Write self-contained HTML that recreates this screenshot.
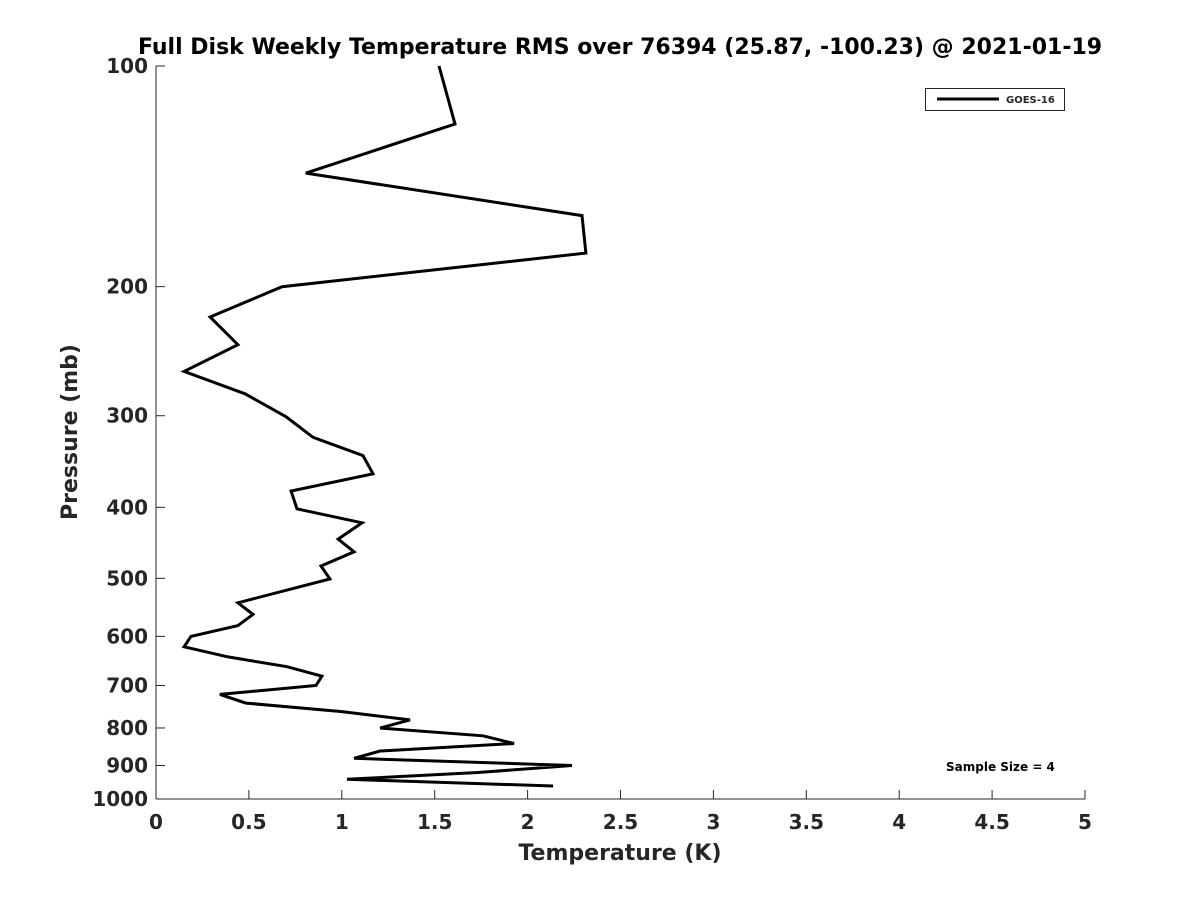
<!DOCTYPE html>
<html><head><meta charset="utf-8"><style>
body{margin:0;background:#fff;font-family:"Liberation Sans","DejaVu Sans",sans-serif}
svg text{font-family:"DejaVu Sans","Liberation Sans",sans-serif;font-weight:bold;fill:#262626}
</style></head><body>
<svg id="chart" width="1200" height="900" xmlns="http://www.w3.org/2000/svg">
<rect width="1200" height="900" fill="#fff"/>
<text x="620" y="54" font-size="22" text-anchor="middle" style="fill:#000">Full Disk Weekly Temperature RMS over 76394 (25.87, -100.23) @ 2021-01-19</text>
<g id="axes"></g>
<path id="series" fill="none" stroke="#000" stroke-width="3" stroke-linejoin="miter"/>
<g>
<rect x="925.5" y="88.5" width="139" height="22" fill="#fff" stroke="#262626" stroke-width="1"/>
<line x1="937" y1="99" x2="999" y2="99" stroke="#000" stroke-width="3"/>
<text x="1006" y="103" font-size="10">GOES-16</text>
</g>
<text x="946" y="771" font-size="12" style="fill:#000">Sample Size = 4</text>
<text x="620" y="860" font-size="22" text-anchor="middle">Temperature (K)</text>
<text transform="translate(77,432) rotate(-90)" font-size="22" text-anchor="middle">Pressure (mb)</text>
</svg>
<script>
const pressures=[100,120,140,160,180,200,220,240,261,280,301,321,340,360,380,402,420,442,460,481,501,540,560,580,600,620,640,660,680,700,720,740,760,780,800,820,840,860,880,900,920,940,960];
const rms=[1.523,1.609,0.807,2.293,2.314,0.678,0.291,0.441,0.151,0.479,0.700,0.845,1.114,1.168,0.727,0.759,1.109,0.980,1.066,0.888,0.936,0.441,0.522,0.441,0.188,0.151,0.388,0.705,0.893,0.861,0.344,0.484,1.001,1.367,1.206,1.760,1.927,1.206,1.066,2.239,1.733,1.028,2.137];
const xTicks=[0,0.5,1,1.5,2,2.5,3,3.5,4,4.5,5];
const xTickLabels=["0","0.5","1","1.5","2","2.5","3","3.5","4","4.5","5"];
const yTicks=[100,200,300,400,500,600,700,800,900,1000];
const yTickLabels=["100","200","300","400","500","600","700","800","900","1000"];
const X0=156,X1=1085,Y0=66,Y1=799;
const xs=v=>X0+(v-0)/(5-0)*(X1-X0);
const ys=p=>Y0+(Math.log10(p)-2)*(Y1-Y0);
const ns="http://www.w3.org/2000/svg";
const ax=document.getElementById('axes');
function mk(t,a){const e=document.createElementNS(ns,t);for(const k in a)e.setAttribute(k,a[k]);return e;}
let l=mk('line',{x1:X0,y1:Y0,x2:X0,y2:Y1,stroke:'#262626','stroke-width':1});


ax.appendChild(l);
l=mk('line',{x1:X0,y1:Y1,x2:X1,y2:Y1,stroke:'#262626','stroke-width':1});


ax.appendChild(l);
xTicks.forEach((v,i)=>{const x=xs(v);
const t=mk('line',{x1:x,y1:Y1,x2:x,y2:Y1-9,stroke:'#262626'});


ax.appendChild(t);
const tx=mk('text',{x:x,y:Y1+30,'font-size':20,'text-anchor':'middle'});


tx.textContent=xTickLabels[i];ax.appendChild(tx);});
yTicks.forEach((v,i)=>{const y=ys(v);
const t=mk('line',{x1:X0,y1:y,x2:X0+9,y2:y,stroke:'#262626'});


ax.appendChild(t);
const tx=mk('text',{x:X0-8,y:y+7,'font-size':20,'text-anchor':'end'});


tx.textContent=yTickLabels[i];ax.appendChild(tx);});
document.getElementById('series').setAttribute('d',pressures.map((p,i)=>(i?'L':'M')+xs(rms[i]).toFixed(1)+' '+ys(p).toFixed(1)).join(' '));
</script>
</body></html>
